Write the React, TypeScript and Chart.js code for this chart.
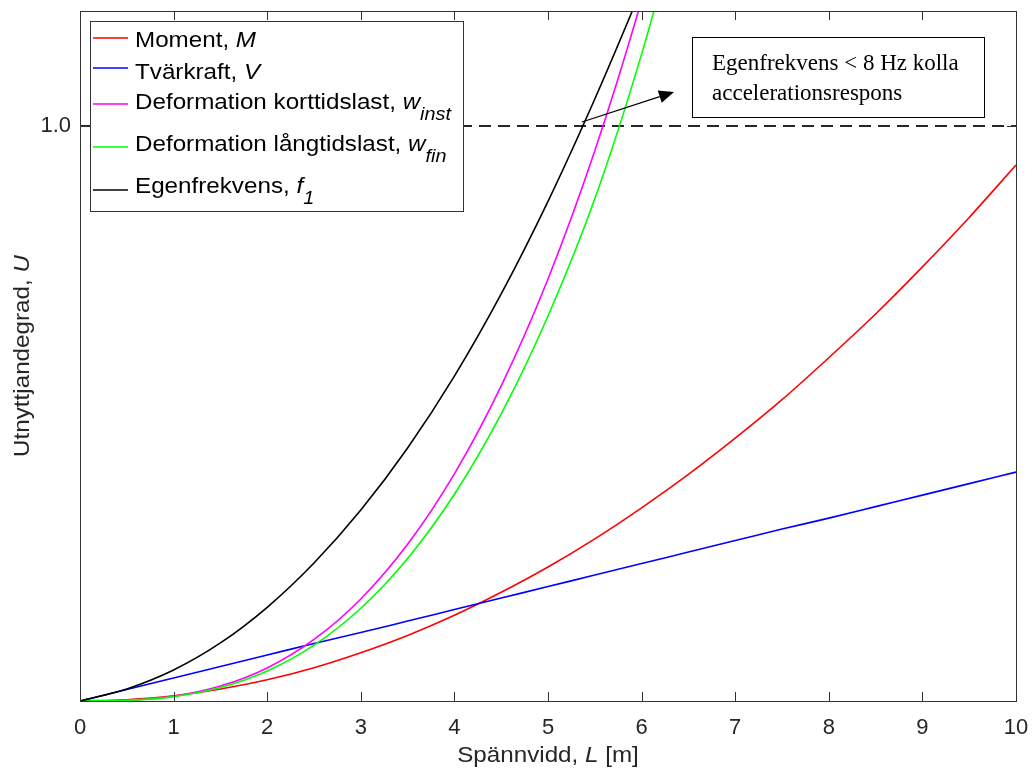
import React, { useEffect, useRef } from "react";
import { Chart, registerables } from "chart.js";

Chart.register(...registerables);

// Span values (m)
const spanL = [0, 0.5, 1, 1.5, 2, 2.5, 3, 3.5, 4, 4.5, 5, 5.5, 6, 6.5, 7, 7.5, 8, 8.5, 9, 9.5, 10];
const spanShort = [0, 0.5, 1, 1.5, 2, 2.5, 3, 3.5, 4, 4.5, 5, 5.5, 6, 6.5];

// Utilisation values
const momentM = [0, 0.0023, 0.009, 0.021, 0.037, 0.058, 0.084, 0.114, 0.149, 0.189, 0.233, 0.282, 0.336, 0.394, 0.457, 0.524, 0.597, 0.673, 0.755, 0.841, 0.932];
const shearV = [0, 0.02, 0.04, 0.06, 0.08, 0.1, 0.119, 0.139, 0.159, 0.179, 0.199, 0.219, 0.239, 0.259, 0.279, 0.299, 0.318, 0.338, 0.358, 0.378, 0.398];
const defInst = [0, 0.0012, 0.0084, 0.026, 0.0575, 0.107, 0.1775, 0.2725, 0.395, 0.548, 0.734, 0.957, 1.219, 1.522];
const defFin = [0, 0.0011, 0.0076, 0.0234, 0.0521, 0.0971, 0.1613, 0.248, 0.3596, 0.4993, 0.6696, 0.8733, 1.125, 1.42];
const freqF1 = [0, 0.021, 0.054, 0.101, 0.163, 0.24, 0.332, 0.44, 0.565, 0.708, 0.869, 1.047, 1.239, 1.44];
const limitLine = [1, 1];
const limitSpan = [0, 10];

const xTicks = [0, 1, 2, 3, 4, 5, 6, 7, 8, 9, 10];
const yTicks = [1.0];

const seriesColors = ["#ff0000", "#0000ff", "#ff00ff", "#00ff00", "#000000"];
const legendLabels = [
  [["Moment, ", false, false], ["M", true, false]],
  [["Tvärkraft, ", false, false], ["V", true, false]],
  [["Deformation korttidslast, ", false, false], ["w", true, false], ["inst", true, true]],
  [["Deformation långtidslast, ", false, false], ["w", true, false], ["fin", true, true]],
  [["Egenfrekvens, ", false, false], ["f", true, false], ["1", true, true]],
];
const xTitle = [["Spännvidd, ", false], ["L", true], [" [m]", false]];
const yTitle = [["Utnyttjandegrad, ", false], ["U", true]];
const noteLines = ["Egenfrekvens < 8 Hz kolla", "accelerationsrespons"];

const SANS = "'Liberation Sans', Arial, Helvetica, sans-serif";
const SERIF = "'Liberation Serif', 'Times New Roman', serif";

function pts(xs: number[], ys: number[]) {
  return ys.map((y, i) => ({ x: xs[i], y }));
}

function drawSegs(ctx: CanvasRenderingContext2D, x: number, y: number, segs: any[], size: number, sx: number) {
  let cx = x;
  for (const s of segs) {
    const [t, it, sub] = s;
    const fs = sub ? Math.round(size * 0.8) : size;
    ctx.font = `${it ? "italic " : ""}${fs}px ${SANS}`;
    ctx.save();
    ctx.translate(cx, y + (sub ? size * 0.5 : 0));
    ctx.scale(sx, 1);
    ctx.fillText(t, 0, 0);
    ctx.restore();
    cx += ctx.measureText(t).width * sx;
  }
  return cx - x;
}

function segsWidth(ctx: CanvasRenderingContext2D, segs: any[], size: number, sx: number) {
  let w = 0;
  for (const s of segs) {
    const [t, it, sub] = s;
    const fs = sub ? Math.round(size * 0.8) : size;
    ctx.font = `${it ? "italic " : ""}${fs}px ${SANS}`;
    w += ctx.measureText(t).width * sx;
  }
  return w;
}

const decorPlugin = {
  id: "decor",
  afterDatasetsDraw(chart: any) {
    const ctx: CanvasRenderingContext2D = chart.ctx;
    const { left, right, top, bottom } = chart.chartArea;
    const xs = chart.scales.x;
    const ys = chart.scales.y;
    ctx.save();
    // axes box
    ctx.strokeStyle = "#333333";
    ctx.lineWidth = 1;
    ctx.strokeRect(Math.round(left) + 0.5, Math.round(top) + 0.5, Math.round(right - left), Math.round(bottom - top));
    // inner ticks
    const tl = 9;
    ctx.beginPath();
    for (const v of xTicks) {
      const px = Math.round(xs.getPixelForValue(v)) + 0.5;
      ctx.moveTo(px, bottom);
      ctx.lineTo(px, bottom - tl);
      ctx.moveTo(px, top);
      ctx.lineTo(px, top + tl);
    }
    for (const v of yTicks) {
      const py = Math.round(ys.getPixelForValue(v)) + 0.5;
      ctx.moveTo(left, py);
      ctx.lineTo(left + tl, py);
      ctx.moveTo(right, py);
      ctx.lineTo(right - tl, py);
    }
    ctx.stroke();

    // legend
    const lx = 90, ly = 21, lw = 373, lh = 190;
    ctx.fillStyle = "#ffffff";
    ctx.fillRect(lx, ly, lw, lh);
    ctx.strokeStyle = "#333333";
    ctx.strokeRect(lx + 0.5, ly + 0.5, lw, lh);
    const lineYs = [38, 68, 104, 147, 190];
    const baseYs = [47, 79, 109, 151, 193];
    legendLabels.forEach((segs, i) => {
      ctx.strokeStyle = seriesColors[i];
      ctx.lineWidth = 1.5;
      ctx.beginPath();
      ctx.moveTo(93, lineYs[i]);
      ctx.lineTo(128, lineYs[i]);
      ctx.stroke();
      ctx.fillStyle = "#000000";
      ctx.textBaseline = "alphabetic";
      ctx.textAlign = "left";
      drawSegs(ctx, 135, baseYs[i], segs, 22, 1.1);
    });

    // annotation box
    ctx.fillStyle = "#ffffff";
    ctx.fillRect(692, 37, 292, 80);
    ctx.strokeStyle = "#000000";
    ctx.lineWidth = 1;
    ctx.strokeRect(692.5, 37.5, 292, 80);
    ctx.fillStyle = "#000000";
    ctx.font = `23px ${SERIF}`;
    ctx.textAlign = "left";
    ctx.fillText(noteLines[0], 712, 70);
    ctx.fillText(noteLines[1], 712, 100);

    // arrow
    const ax0 = 582, ay0 = 122, ax1 = 674, ay1 = 92;
    const ang = Math.atan2(ay1 - ay0, ax1 - ax0);
    const hl = 15, hw = 6.5;
    const bx = ax1 - hl * Math.cos(ang), by = ay1 - hl * Math.sin(ang);
    ctx.strokeStyle = "#000000";
    ctx.lineWidth = 1.3;
    ctx.beginPath();
    ctx.moveTo(ax0, ay0);
    ctx.lineTo(bx, by);
    ctx.stroke();
    ctx.beginPath();
    ctx.moveTo(ax1, ay1);
    ctx.lineTo(bx + hw * Math.sin(ang), by - hw * Math.cos(ang));
    ctx.lineTo(bx - hw * Math.sin(ang), by + hw * Math.cos(ang));
    ctx.closePath();
    ctx.fill();

    // axis titles
    ctx.fillStyle = "#262626";
    const xt = xTitle.map((s) => [s[0], s[1], false]);
    const xw = segsWidth(ctx, xt, 22, 1.1);
    drawSegs(ctx, (left + right) / 2 - xw / 2, 762, xt, 22, 1.1);
    const yt = yTitle.map((s) => [s[0], s[1], false]);
    const yw = segsWidth(ctx, yt, 22, 1.1);
    ctx.save();
    ctx.translate(29, (top + bottom) / 2 + yw / 2);
    ctx.rotate(-Math.PI / 2);
    drawSegs(ctx, 0, 0, yt, 22, 1.1);
    ctx.restore();
    ctx.restore();
  },
};

export default function App() {
  const ref = useRef<HTMLCanvasElement>(null);
  useEffect(() => {
    document.body.style.margin = "0";
    const lineDs = (label: string, xsArr: number[], ysArr: number[], color: string) => ({
      label,
      data: pts(xsArr, ysArr),
      borderColor: color,
      backgroundColor: color,
      borderWidth: 1.6,
      pointRadius: 0,
      cubicInterpolationMode: "monotone" as const,
      fill: false,
    });
    const chart = new Chart(ref.current as HTMLCanvasElement, {
      type: "line",
      data: {
        datasets: [
          lineDs("Egenfrekvens", spanShort, freqF1, seriesColors[4]),
          lineDs("Deformation långtidslast", spanShort, defFin, seriesColors[3]),
          lineDs("Deformation korttidslast", spanShort, defInst, seriesColors[2]),
          lineDs("Tvärkraft", spanL, shearV, seriesColors[1]),
          lineDs("Moment", spanL, momentM, seriesColors[0]),
          {
            label: "Gräns",
            data: pts(limitSpan, limitLine),
            borderColor: "#262626",
            borderWidth: 2,
            borderDash: [12, 7],
            pointRadius: 0,
            fill: false,
          },
        ],
      },
      options: {
        responsive: false,
        animation: false,
        devicePixelRatio: 1,
        layout: { padding: { top: 11, right: 17, left: 0, bottom: 0 } },
        plugins: { legend: { display: false }, tooltip: { enabled: false } },
        scales: {
          x: {
            type: "linear",
            min: 0,
            max: 10,
            grid: { display: false, drawTicks: false, tickLength: 0 },
            border: { display: false },
            ticks: {
              stepSize: 1,
              padding: 14,
              color: "#262626",
              font: { family: SANS, size: 22 },
              maxRotation: 0,
            },
            afterFit: (s: any) => {
              s.height = 69;
              s.paddingLeft = 0;
              s.paddingRight = 0;
              s.paddingTop = 0;
              s.paddingBottom = 0;
            },
          },
          y: {
            type: "linear",
            min: 0,
            max: 1.2,
            grid: { display: false, drawTicks: false, tickLength: 0 },
            border: { display: false },
            afterBuildTicks: (s: any) => {
              s.ticks = yTicks.map((v) => ({ value: v }));
            },
            ticks: {
              padding: 9,
              color: "#262626",
              font: { family: SANS, size: 22 },
              callback: (v: any) => Number(v).toFixed(1),
            },
            afterFit: (s: any) => {
              s.width = 80;
              s.paddingLeft = 0;
              s.paddingRight = 0;
              s.paddingTop = 0;
              s.paddingBottom = 0;
            },
          },
        },
      },
      plugins: [decorPlugin],
    });
    return () => chart.destroy();
  }, []);
  return (
    <div style={{ position: "absolute", left: 0, top: 0, width: 1033, height: 770, background: "#fff" }}>
      <canvas ref={ref} width={1033} height={770} style={{ display: "block" }} />
    </div>
  );
}
